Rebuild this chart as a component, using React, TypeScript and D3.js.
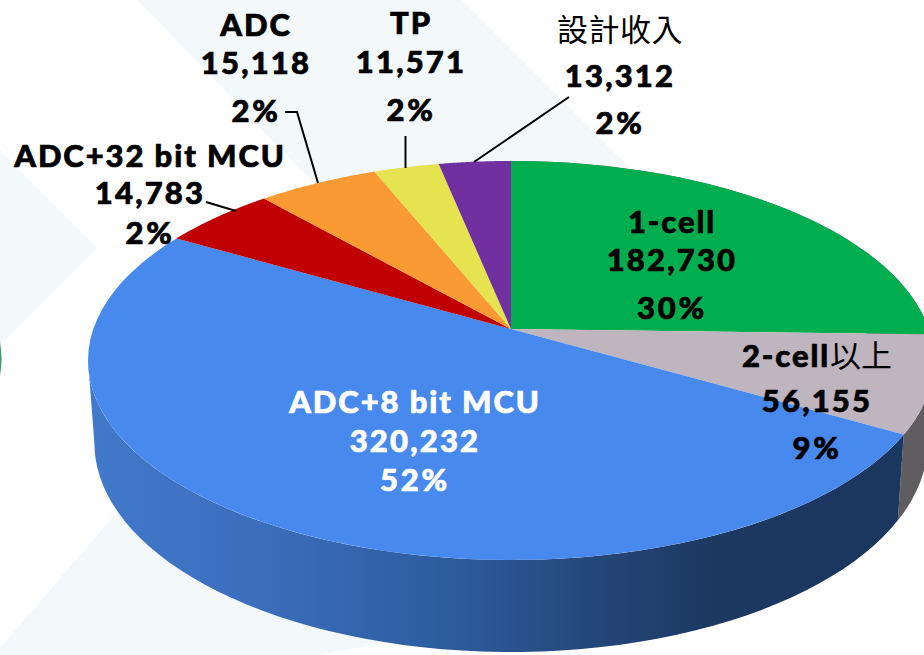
import React from "react";
import * as d3 from "d3";

// order: clockwise from 12 o'clock, as on the picture
const names = ["1-cell", "2-cell", "ADC+8 bit MCU", "ADC+32 bit MCU", "ADC", "TP", "設計收入"];
const nameSuffix = ["", "以上", "", "", "", "", ""];
const units = [182730, 56155, 320232, 14783, 15118, 11571, 13312];
const percents = [30, 9, 52, 2, 2, 2, 2];
// the drawn slices do not follow the printed numbers, so these are the shares
const drawnShares = [25.4, 7.9, 50, 5.1, 5.4, 2.9, 3.2];
const colors = ["#00ad4f", "#bfb5bf", "#4889ee", "#c00000", "#fa9a33", "#e5e34f", "#7030a0"];

const width = 924;
const height = 655;

// where each label sits: center x, then baselines of the three lines
const labelPos = [
  { x: 672, y: [233, 271, 319], fill: "#000" },
  { x: 817, y: [367, 412, 459], fill: "#000" },
  { x: 415, y: [413, 452, 491], fill: "#fff" },
  { x: 150, y: [167, 204, 244], fill: "#000" },
  { x: 256, y: [36, 74, 122], fill: "#000" },
  { x: 411, y: [34, 73, 121], fill: "#000" },
  { x: 620, y: [41, 87, 134], fill: "#000" },
];

const leaders: [number, number][][] = [
  [[206, 202], [236, 211]],
  [[285, 112], [297, 112], [318, 183]],
  [[405.5, 136], [405.5, 168]],
  [[569, 97], [474, 162]],
];

// perspective of the pie disc: y runs 161 (back) .. 329 (apex) .. 560 (front)
const r = 0.1579;
const p = -142.6;
const apexX = 511;
const apexY = 329;
const spread = 417.7;

function project(angle: number, radius = 1): [number, number] {
  const X = Math.sin(angle) * radius;
  const Y = Math.cos(angle) * radius;
  const d = 1 + r * Y;
  return [apexX + (spread * X) / d, (p * Y + apexY) / d];
}

// same point on the lower rim of the disc
function lower(pt: [number, number]): [number, number] {
  return [apexX + (pt[0] - apexX) * 0.985, 360 + (pt[1] - 360) * 1.05 + 82];
}

const pieData = d3.pie<number>().sort(null).value((d) => d)(drawnShares);
const line = d3.line();

function rim(start: number, end: number) {
  return d3.range(0, 61).map((i) => project(start + ((end - start) * i) / 60));
}

// the wall stops at the left extreme of the disc, behind that it is hidden
const leftmostAngle = Math.PI + Math.acos(r);

const formatUnits = d3.format(",");
const font = "Lato, 'Noto Sans CJK TC', sans-serif";

export default function App() {
  return (
    <svg
      width={width}
      height={height}
      style={{ position: "absolute", left: 0, top: 0, background: "#fff" }}
    >
      <defs>
        <linearGradient id="blueSide" gradientUnits="userSpaceOnUse" x1={88} x2={924} y1={0} y2={0}>
          <stop offset="0" stopColor="#4279cb" />
          <stop offset="0.2" stopColor="#3b6ebd" />
          <stop offset="0.45" stopColor="#2c5a9b" />
          <stop offset="0.62" stopColor="#234576" />
          <stop offset="0.75" stopColor="#1c3861" />
          <stop offset="1" stopColor="#1b3760" />
        </linearGradient>
      </defs>

      {/* pale background shapes */}
      <path d="M138,0 L462,0 L640,178 L320,190 Z" fill="#f3f8fb" />
      <path d="M0,150 L97,248 L0,345 Z" fill="#f3f8fb" />
      <path d="M0,648 L117,512 L400,640 L317,655 L0,655 Z" fill="#f3f8fb" />
      <path d="M0,342 Q3,358 0,376 Z" fill="#3f9a6b" />

      {/* side wall, only the front slices show */}
      {pieData.slice(0, 3).map((d, i) => {
        const top = rim(d.startAngle, Math.min(d.endAngle, leftmostAngle));
        const bottom = top.map(lower).reverse();
        return (
          <path
            key={i}
            d={line([...top, ...bottom]) + "Z"}
            fill={i === 2 ? "url(#blueSide)" : "#5f5d60"}
          />
        );
      })}

      {/* top face */}
      {pieData.map((d, i) => (
        <path
          key={i}
          d={line([[apexX, apexY], ...rim(d.startAngle, d.endAngle)]) + "Z"}
          fill={colors[i]}
        />
      ))}

      {leaders.map((pts, i) => (
        <path key={i} d={line(pts) || ""} fill="none" stroke="#000" strokeWidth={2} />
      ))}

      {names.map((name, i) => {
        const pos = labelPos[i];
        const isCjk = name === "設計收入";
        return (
          <g
            key={name}
            fontFamily={font}
            fontWeight={900}
            fontSize={31}
            fill={pos.fill}
            stroke={pos.fill}
            strokeWidth={0.7}
            textAnchor="middle"
          >
            <text
              x={pos.x}
              y={pos.y[0]}
              fontWeight={isCjk ? 400 : 900}
              strokeWidth={isCjk ? 0 : 0.7}
              letterSpacing={isCjk ? 0.5 : 1.9}
            >
              {name}
              {nameSuffix[i] && (
                <tspan fontWeight={400} stroke="none" letterSpacing={0}>
                  {nameSuffix[i]}
                </tspan>
              )}
            </text>
            <text x={pos.x} y={pos.y[1]} letterSpacing={2.2}>
              {formatUnits(units[i])}
            </text>
            <text x={pos.x} y={pos.y[2]} letterSpacing={2.8}>
              {percents[i]}%
            </text>
          </g>
        );
      })}
    </svg>
  );
}
